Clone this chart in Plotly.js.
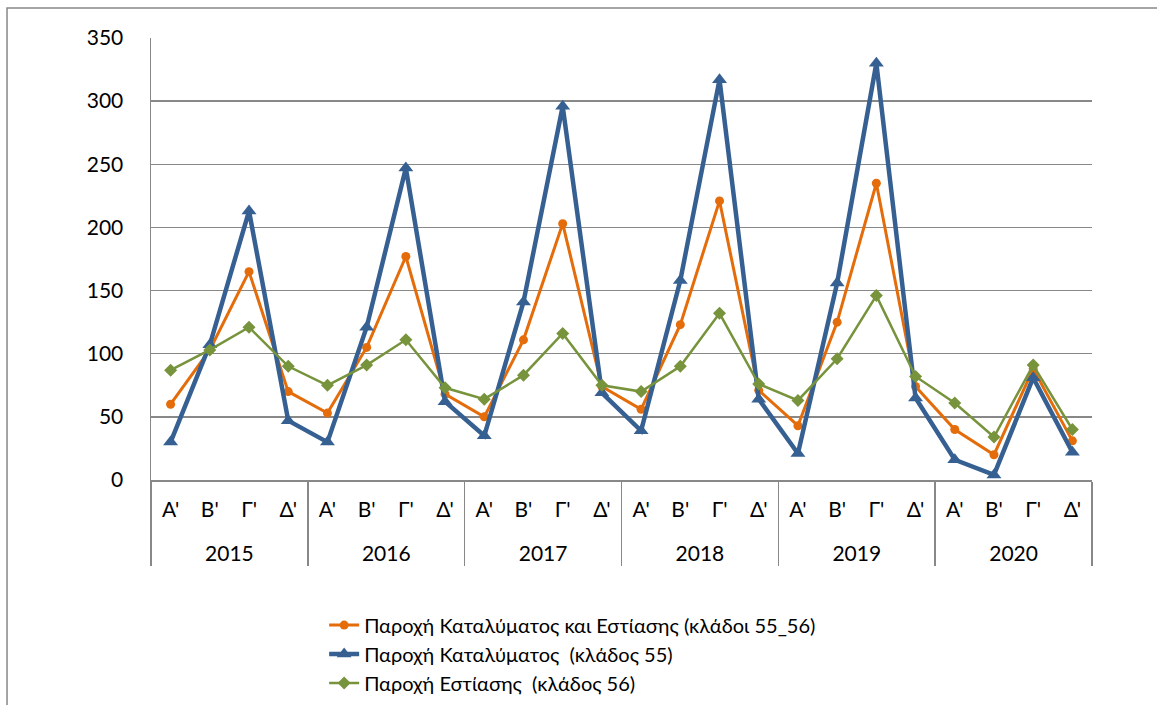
<!DOCTYPE html>
<html>
<head>
<meta charset="utf-8">
<script src="https://cdn.plot.ly/plotly-3.0.1.min.js"></script>
<style>html,body{margin:0;padding:0;background:#fff;}#chart{width:1157px;height:705px;}</style>
</head>
<body>
<div id="chart"></div>
<script>
const years = ['2015', '2016', '2017', '2018', '2019', '2020'];
const quarters = ["Α'", "Β'", "Γ'", "Δ'"];
const seriesNames = [
  'Παροχή Καταλύματος και Εστίασης (κλάδοι 55_56)',
  'Παροχή Καταλύματος  (κλάδος 55)',
  'Παροχή Εστίασης  (κλάδος 56)'
];
const accomFood = [60, 103, 165, 70, 53, 105, 177, 68, 50, 111, 203, 74, 56, 123, 221, 71, 43, 125, 235, 74, 40, 20, 88, 31];
const accom = [30, 107, 213, 47, 30, 121, 247, 62, 35, 141, 296, 69, 39, 158, 317, 64, 21, 156, 330, 65, 16, 4, 81, 22];
const food = [87, 103, 121, 90, 75, 91, 111, 73, 64, 83, 116, 75, 70, 90, 132, 76, 63, 96, 146, 82, 61, 34, 91, 40];

const xYears = [], xQuarters = [];
years.forEach(y => quarters.forEach(q => { xYears.push('<br>' + y); xQuarters.push(q); }));

const fontFam = 'Lato, "Noto Sans", "Open Sans", sans-serif';
const traces = [
  {name: seriesNames[0], y: accomFood, color: '#E46C0A', symbol: 'circle', size: 9, width: 3},
  {name: seriesNames[1], y: accom, color: '#376092', symbol: 'triangle-up', size: 13, width: 4.5},
  {name: seriesNames[2], y: food, color: '#77933C', symbol: 'diamond', size: 10, width: 2.5}
].map(s => ({
  type: 'scatter', mode: 'lines+markers', name: s.name,
  x: [xYears, xQuarters], y: s.y,
  line: {color: s.color, width: s.width},
  marker: {color: s.color, symbol: s.symbol, size: s.size}
}));

const layout = {
  width: 1157, height: 705,
  margin: {l: 151, r: 65, t: 38, b: 225},
  paper_bgcolor: '#fff', plot_bgcolor: '#fff',
  font: {family: fontFam, size: 21, color: '#000'},
  showlegend: true,
  legend: {x: 0.184, xanchor: 'left', yref: 'container', y: 0.141, yanchor: 'top', orientation: 'v',
           font: {family: fontFam, size: 20, color: '#000'}, tracegroupgap: 0, bgcolor: 'rgba(0,0,0,0)'},
  xaxis: {
    type: 'multicategory', range: [-0.5, 23.5], autorange: false, showgrid: false, automargin: false,
    ticks: 'outside', ticklen: 28, tickcolor: 'rgba(0,0,0,0)', ticklabelstandoff: 10, showline: true,
    linecolor: '#888', linewidth: 1.5,
    showdividers: true, dividercolor: '#888', dividerwidth: 1.5,
    tickfont: {family: fontFam, size: 21, color: '#000'}
  },
  yaxis: {
    range: [0, 350], autorange: false, dtick: 50, tick0: 0, showgrid: true, gridcolor: '#888', gridwidth: 1.5,
    showline: true, linecolor: '#888', linewidth: 1.5, zeroline: false, ticks: '', automargin: false,
    ticklabelstandoff: 22,
    tickfont: {family: fontFam, size: 21, color: '#000'}
  },
  shapes: [{type: 'rect', xref: 'paper', yref: 'paper', x0: -0.153, x1: 1.3, y0: -0.7, y1: 1.068,
            line: {color: '#888', width: 1.5}, fillcolor: 'rgba(0,0,0,0)', layer: 'below'}]
};
Plotly.newPlot('chart', traces, layout, {displayModeBar: false, staticPlot: true});
</script>
</body>
</html>
